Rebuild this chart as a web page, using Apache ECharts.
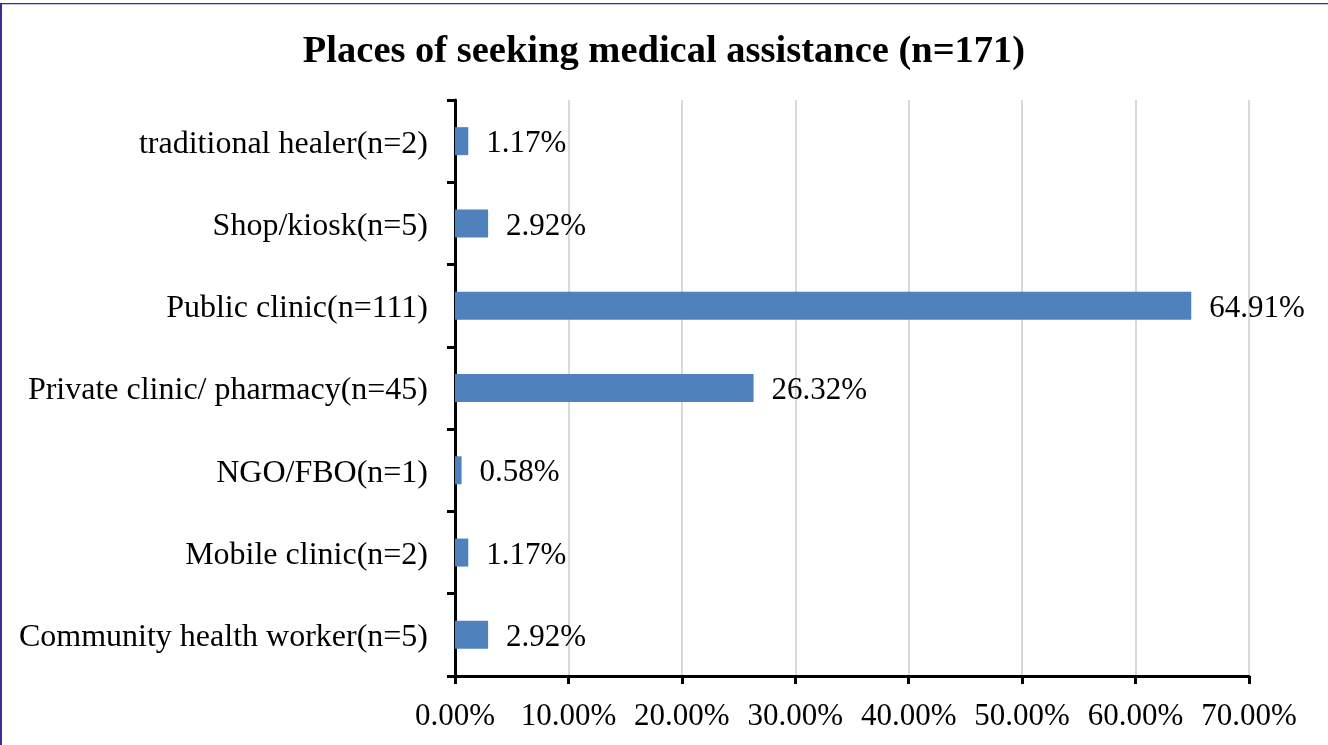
<!DOCTYPE html>
<html>
<head>
<meta charset="utf-8">
<script src="https://cdn.jsdelivr.net/npm/echarts@6/dist/echarts.min.js"></script>
<style>
html,body{margin:0;padding:0;background:#fff;}
#wrap{position:relative;width:1328px;height:745px;}
#chart{position:absolute;left:0;top:0;width:1328px;height:745px;}
#bt{position:absolute;left:0;top:3px;width:1328px;height:1px;background:#3b2c96;}
#bt2{position:absolute;left:0;top:4px;width:1328px;height:1px;background:#c9c3e6;}
#bl{position:absolute;left:0;top:3px;width:2px;height:742px;background:#3b2c96;}
</style>
</head>
<body>
<div id="wrap"><div id="chart"></div><div id="bt"></div><div id="bt2"></div><div id="bl"></div></div>
<script>
const categories = [
  "Community health worker(n=5)",
  "Mobile clinic(n=2)",
  "NGO/FBO(n=1)",
  "Private clinic/ pharmacy(n=45)",
  "Public clinic(n=111)",
  "Shop/kiosk(n=5)",
  "traditional healer(n=2)"
];
const values = [2.92, 1.17, 0.58, 26.32, 64.91, 2.92, 1.17];
const xTicks = [0, 10, 20, 30, 40, 50, 60, 70];
const title = "Places of seeking medical assistance (n=171)";

const chart = echarts.init(document.getElementById('chart'), null, {renderer: 'canvas'});
const font = "'Liberation Serif', 'Times New Roman', serif";
chart.setOption({
  animation: false,
  backgroundColor: '#fff',
  title: {
    text: title,
    left: 'center',
    top: 28,
    textStyle: {fontFamily: font, fontSize: 38.5, fontWeight: 'bold', color: '#000'}
  },
  grid: {left: 455, right: 79, top: 100, bottom: 69, containLabel: false},
  xAxis: {
    type: 'value',
    min: xTicks[0], max: xTicks[xTicks.length - 1], interval: 10,
    axisLine: {show: true, lineStyle: {color: '#000', width: 3}},
    axisTick: {show: true, length: 8, lineStyle: {color: '#000', width: 3}},
    splitLine: {show: true, lineStyle: {color: '#d9d9d9', width: 2}},
    axisLabel: {
      fontFamily: font, fontSize: 31, color: '#000', margin: 25,
      formatter: v => v.toFixed(2) + '%'
    }
  },
  yAxis: {
    type: 'category',
    data: categories,
    axisLine: {show: true, onZero: false, lineStyle: {color: '#000', width: 3}},
    axisTick: {show: true, length: 8, lineStyle: {color: '#000', width: 3}},
    axisLabel: {
      fontFamily: font, fontSize: 32, color: '#000', margin: 27,
      formatter: v => '{c|' + v + '}',
      rich: {c: {fontFamily: font, fontSize: 32, color: '#000', padding: [6, 0, 0, 0]}}
    }
  },
  series: [{
    type: 'bar',
    data: values,
    barWidth: 28,
    itemStyle: {color: '#4f81bd'},
    label: {
      show: true, position: 'right', distance: 18, offset: [0, 3],
      fontFamily: font, fontSize: 31, color: '#000',
      formatter: p => p.value.toFixed(2) + '%'
    }
  }]
});
</script>
</body>
</html>
